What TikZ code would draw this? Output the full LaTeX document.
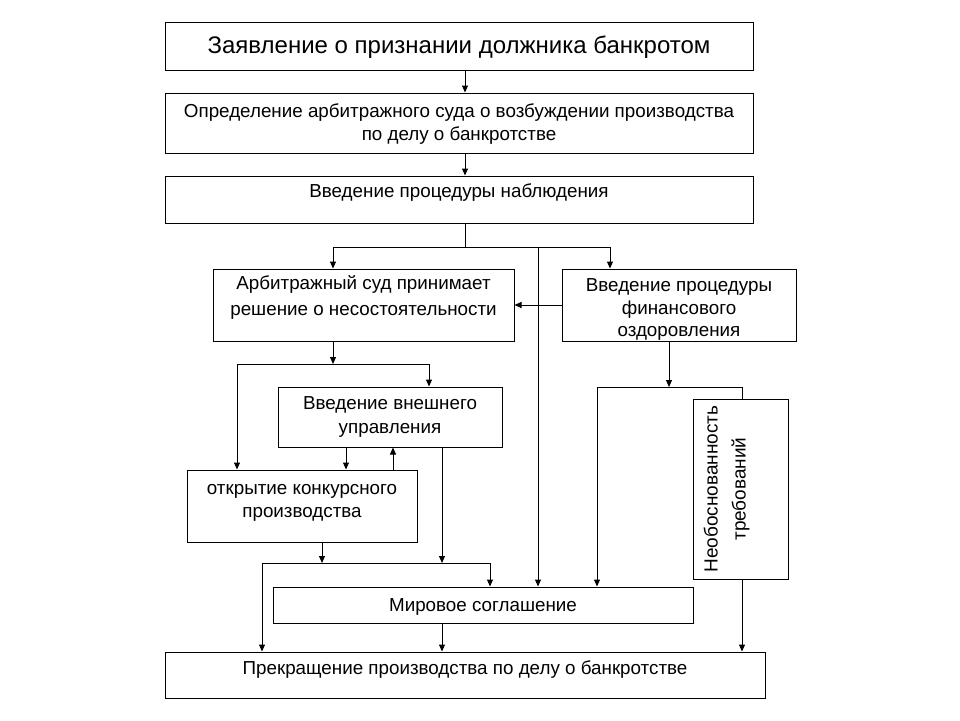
\documentclass[tikz,border=0pt]{standalone}
\usepackage{fontspec}
\setmainfont{Liberation Sans}
\usetikzlibrary{arrows.meta}

\tikzset{
  box/.style={draw, line width=1pt, inner sep=0pt},
  lbl/.style={align=center, inner sep=0pt, font=\fontsize{18.8}{23}\selectfont},
  arr/.style={line width=1pt, -{Triangle[length=7pt,width=6pt]}},
  ln/.style={line width=1pt},
}

\begin{document}
\begin{tikzpicture}[x=1pt, y=-1pt]
    \useasboundingbox (0,0) rectangle (960,720);

    % Boxes of the procedure
    \node[box, minimum width=588pt, minimum height=48pt,
          label={[lbl, yshift=-1pt, font=\fontsize{24}{28}\selectfont]center:Заявление о признании должника банкротом}] (zayav) at (459,46) {};
    \node[box, minimum width=588pt, minimum height=60pt,
          label={[lbl, yshift=-1pt]center:Определение арбитражного суда о возбуждении производства\\по делу о банкротстве}] (opred) at (459,123) {};
    \node[box, minimum width=588pt, minimum height=47pt,
          label={[lbl, yshift=7pt]center:Введение процедуры наблюдения}] (nabl) at (459,199.5) {};
    \node[box, minimum width=301pt, minimum height=72pt,
          label={[lbl, yshift=7.5pt, font=\fontsize{18.8}{26}\selectfont]center:Арбитражный суд принимает\\решение о несостоятельности}] (arbit) at (363.5,305) {};
    \node[box, minimum width=234pt, minimum height=72pt,
          label={[lbl, yshift=-4.5pt, font=\fontsize{18.8}{22.5}\selectfont]center:Введение процедуры\\финансового\\оздоровления}] (ozdor) at (679,305) {};
    \node[box, minimum width=224pt, minimum height=60pt,
          label={[lbl, font=\fontsize{18.8}{24}\selectfont]center:Введение внешнего\\управления}] (vnesh) at (390,417) {};
    \node[box, minimum width=230pt, minimum height=72pt,
          label={[lbl, yshift=3pt]center:открытие конкурсного\\производства}] (konk) at (302,506) {};
    \node[box, minimum width=95pt, minimum height=180pt,
          label={[lbl, xshift=-14pt, rotate=90, font=\fontsize{19}{28}\selectfont]center:Необоснованность\\требований}] (neob) at (740.5,489) {};
    \node[box, minimum width=420pt, minimum height=36pt,
          label={[lbl, yshift=-2pt]center:Мировое соглашение}] (mir) at (483,605) {};
    \node[box, minimum width=600pt, minimum height=46pt,
          label={[lbl, yshift=5pt]center:Прекращение производства по делу о банкротстве}] (prekr) at (465,675) {};

    % Junction points
    \coordinate (j1) at (465,247);
    \coordinate (j2) at (333,364);
    \coordinate (j3) at (442,563);
    \coordinate (j4) at (669,387);

    % Straight chain at the top
    \draw[arr] ([xshift=6pt]zayav.south) -- ([xshift=6pt]opred.north);
    \draw[arr] ([xshift=6pt]opred.south) -- ([xshift=6pt]nabl.north);

    % After the observation
    \draw[ln] ([xshift=6pt]nabl.south) -- (j1);
    \draw[arr] (j1) -| ([xshift=-30.5pt]arbit.north);
    \draw[arr] (j1) -| ([xshift=-69pt]ozdor.north);
    \draw[arr] (j1 -| 538,0) -- (538,0 |- mir.north);
    \draw[arr] (ozdor.west) -- (arbit.east);

    % Decision of the court
    \draw[arr] ([xshift=-30.5pt]arbit.south) -- (j2);
    \draw[ln] (j2) -- (237,0 |- j2);
    \draw[arr] (237,0 |- j2) -- (237,0 |- konk.north);
    \draw[arr] (j2) -| ([xshift=39pt]vnesh.north);
    \draw[arr] (346,0 |- vnesh.south) -- (346,0 |- konk.north);
    \draw[arr] (393,0 |- konk.north) -- (393,0 |- vnesh.south);

    % Towards the settlement
    \draw[arr] (442,0 |- vnesh.south) -- (j3);
    \draw[arr] (322,0 |- konk.south) -- (322,0 |- j3);
    \draw[ln] (262,0 |- j3) -- (490,0 |- j3);
    \draw[arr] (490,0 |- j3) -- (490,0 |- mir.north);
    \draw[arr] (262,0 |- j3) -- (262,0 |- prekr.north);

    % Financial recovery branch
    \draw[arr] (ozdor.south -| j4) -- (j4);
    \draw[ln] (597,0 |- j4) -- (742,0 |- j4) -- (742,0 |- neob.north);
    \draw[arr] (597,0 |- j4) -- (597,0 |- mir.north);

    % End of the case
    \draw[arr] (442,0 |- mir.south) -- (442,0 |- prekr.north);
    \draw[arr] (742,0 |- neob.south) -- (742,0 |- prekr.north);
\end{tikzpicture}
\end{document}
